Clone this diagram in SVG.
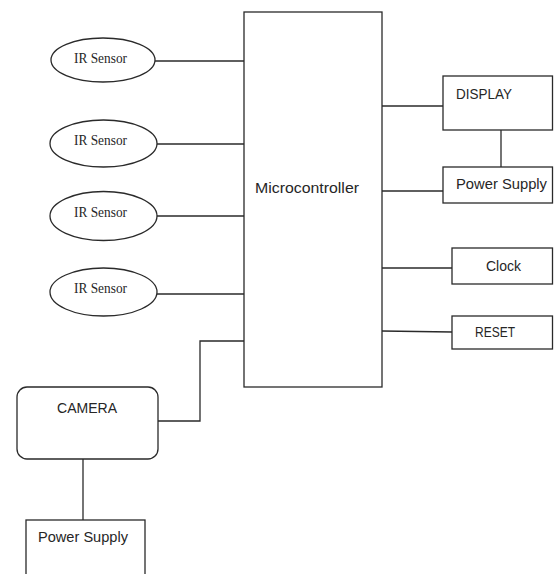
<svg xmlns="http://www.w3.org/2000/svg" width="554" height="574" viewBox="0 0 554 574">
<style>
.s{fill:#fff;stroke:#2a2a2a;stroke-width:1.3}
.c{fill:none;stroke:#2a2a2a;stroke-width:1.3}
.t{font-family:"Liberation Sans",Arial,sans-serif;font-size:15.5px;fill:#262626}
.ir{font-family:"Liberation Serif","Times New Roman",serif;font-size:15px;fill:#262626}
</style>
<rect width="554" height="574" fill="#fff"/>
<g id="connectors">
<line class="c" x1="155" y1="61" x2="244" y2="61"/>
<line class="c" x1="157" y1="144" x2="244" y2="144"/>
<line class="c" x1="157" y1="216" x2="244" y2="216"/>
<line class="c" x1="157" y1="294" x2="244" y2="294"/>
<polyline class="c" points="244,341 200,341 200,421 158,421"/>
<line class="c" x1="83" y1="459" x2="83" y2="520"/>
<line class="c" x1="382" y1="106" x2="443" y2="106"/>
<line class="c" x1="501" y1="130" x2="501" y2="167"/>
<line class="c" x1="382" y1="191" x2="443" y2="191"/>
<line class="c" x1="382" y1="268" x2="452" y2="268"/>
<line class="c" x1="382" y1="331" x2="452" y2="332"/>
</g>
<g id="mcu">
<rect class="s" x="244" y="12" width="138" height="375"/>
<text class="t" x="255" y="193" textLength="104" lengthAdjust="spacingAndGlyphs">Microcontroller</text>
</g>
<g id="ir1">
<ellipse class="s" cx="103" cy="60" rx="52" ry="22"/>
<text class="ir" x="74" y="62.5" textLength="53" lengthAdjust="spacingAndGlyphs">IR Sensor</text>
</g>
<g id="ir2">
<ellipse class="s" cx="103.5" cy="143.5" rx="53.5" ry="23.5"/>
<text class="ir" x="74" y="145" textLength="53" lengthAdjust="spacingAndGlyphs">IR Sensor</text>
</g>
<g id="ir3">
<ellipse class="s" cx="103.5" cy="216" rx="53.5" ry="24.5"/>
<text class="ir" x="74" y="217" textLength="53" lengthAdjust="spacingAndGlyphs">IR Sensor</text>
</g>
<g id="ir4">
<ellipse class="s" cx="103.5" cy="292" rx="53.5" ry="24"/>
<text class="ir" x="74" y="293" textLength="53" lengthAdjust="spacingAndGlyphs">IR Sensor</text>
</g>
<g id="camera">
<rect class="s" x="17" y="387" width="141" height="72" rx="10"/>
<text class="t" x="57" y="413" textLength="60" lengthAdjust="spacingAndGlyphs">CAMERA</text>
</g>
<g id="psu-camera">
<rect class="s" x="26" y="520" width="119" height="70"/>
<text class="t" x="38" y="542" textLength="90" lengthAdjust="spacingAndGlyphs">Power Supply</text>
</g>
<g id="display">
<rect class="s" x="443" y="76" width="109.5" height="54"/>
<text class="t" x="456" y="99" textLength="56" lengthAdjust="spacingAndGlyphs">DISPLAY</text>
</g>
<g id="psu-display">
<rect class="s" x="443" y="167" width="109.5" height="36"/>
<text class="t" x="456" y="189" textLength="91" lengthAdjust="spacingAndGlyphs">Power Supply</text>
</g>
<g id="clock">
<rect class="s" x="452" y="248" width="100.5" height="36"/>
<text class="t" x="486" y="271" textLength="35" lengthAdjust="spacingAndGlyphs">Clock</text>
</g>
<g id="reset">
<rect class="s" x="452" y="316" width="100.5" height="33"/>
<text class="t" x="475" y="337" textLength="40" lengthAdjust="spacingAndGlyphs">RESET</text>
</g>
</svg>
